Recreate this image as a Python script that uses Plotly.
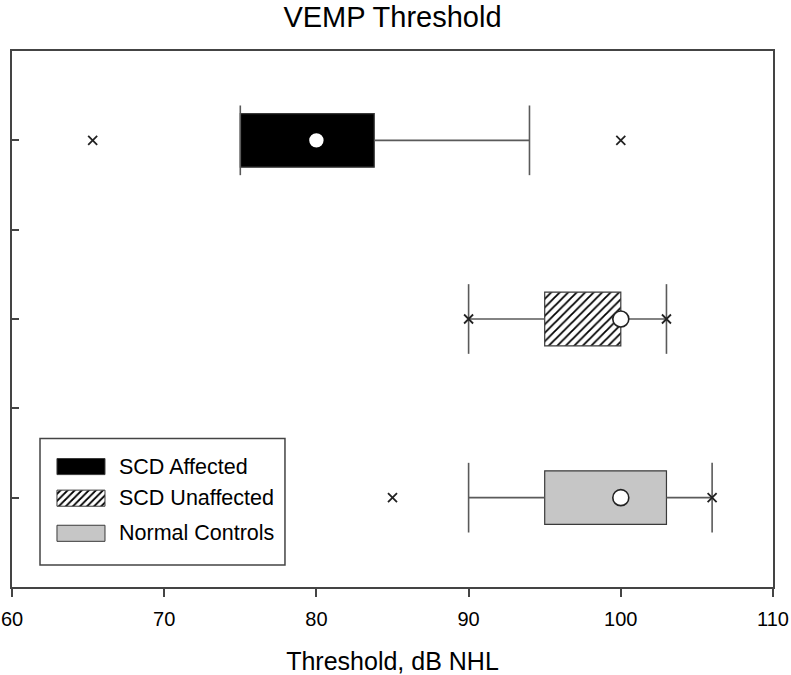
import plotly.graph_objects as go

# ---------------- data ----------------
groups = ["SCD Affected", "SCD Unaffected", "Normal Controls"]
positions = [5, 3, 1]
lower_whisker = [75, 90, 90]
q1 = [75, 95, 95]
q3 = [83.8, 100, 103]
upper_whisker = [94, 103, 106]
centers = [80, 100, 100]
outliers = [[65.3, 100], [90, 103], [85, 106]]
x_ticks = [60, 70, 80, 90, 100, 110]

# ---------------- styles ----------------
FONT = "Liberation Sans, Arial, sans-serif"
fills = ["black", "white", "#c6c6c6"]
patterns = ["", "/", ""]
edge = "#3a3a3a"
wcol = "#5a5a5a"
box_w = 0.6
cap_half = 0.39

fig = go.Figure()

for g, p, lo, a, b, hi, f, pat in zip(groups, positions, lower_whisker, q1, q3,
                                      upper_whisker, fills, patterns):
    # whiskers + caps
    fig.add_trace(go.Scatter(
        x=[lo, a, None, b, hi, None, lo, lo, None, hi, hi],
        y=[p, p, None, p, p, None, p - cap_half, p + cap_half, None, p - cap_half, p + cap_half],
        mode="lines", line=dict(color=wcol, width=1.6), showlegend=False, hoverinfo="skip"))
    # box
    marker = dict(color=f, line=dict(color=edge, width=1.2))
    if pat:
        marker["pattern"] = dict(shape=pat, fgcolor="black", bgcolor="white",
                                 size=6, solidity=0.3, fillmode="replace")
    fig.add_trace(go.Bar(
        y=[p], x=[b - a], base=[a], orientation="h", width=box_w,
        marker=marker, name=g, showlegend=False))

# outliers
for p, outs in zip(positions, outliers):
    fig.add_trace(go.Scatter(
        x=outs, y=[p] * len(outs), mode="markers",
        marker=dict(symbol="x-thin", size=9, line=dict(color="#222", width=1.8)),
        showlegend=False))

# centre circles
fig.add_trace(go.Scatter(
    x=centers, y=positions, mode="markers",
    marker=dict(symbol="circle", size=16, color="white",
                line=dict(color=["black", "#222", "#222"], width=1.6)),
    showlegend=False))

# ---------------- custom legend (in plot-area fractions) ----------------
leg_x0, leg_x1, leg_y0, leg_y1 = 0.0368, 0.3587, 0.0412, 0.2772
sw_x0, sw_x1, sw_h = 0.0591, 0.1222, 0.030
row_y = [0.2247, 0.1657, 0.1002]
text_x = 0.138

fig.add_shape(type="rect", xref="paper", yref="paper",
              x0=leg_x0, x1=leg_x1, y0=leg_y0, y1=leg_y1,
              line=dict(color="#444", width=1.5), fillcolor="white", layer="below")

for g, ry, f, pat in zip(groups, row_y, fills, patterns):
    marker = dict(color=f, line=dict(color=edge, width=1))
    if pat:
        marker["pattern"] = dict(shape=pat, fgcolor="black", bgcolor="white",
                                 size=5, solidity=0.35, fillmode="replace")
    fig.add_trace(go.Bar(
        y=[ry], x=[sw_x1 - sw_x0], base=[sw_x0], orientation="h", width=sw_h,
        marker=marker, xaxis="x2", yaxis="y2", showlegend=False, hoverinfo="skip"))
    fig.add_annotation(x=text_x, y=ry, xref="paper", yref="paper", text=g,
                       showarrow=False, xanchor="left", yanchor="middle",
                       font=dict(family=FONT, size=21.5, color="black"))

fig.update_layout(
    width=791, height=675,
    margin=dict(l=12, r=18, t=51, b=88),
    template="none",
    paper_bgcolor="white", plot_bgcolor="rgba(0,0,0,0)",
    barmode="overlay",
    showlegend=False,
    font=dict(family=FONT, color="black"),
    title=dict(text="VEMP Threshold", x=0.5, xref="paper", xanchor="center",
               y=0.9748, yref="container", yanchor="middle",
               font=dict(family=FONT, size=29, color="black")),
    xaxis=dict(range=[60, 110], tickvals=x_ticks, ticks="outside", ticklen=8,
               tickwidth=1.5, tickcolor="#444", showline=True, linecolor="#444",
               linewidth=1.5, mirror=True, showgrid=False, zeroline=False,
               automargin=False, ticklabelstandoff=5,
               tickfont=dict(family=FONT, size=20, color="black"),
               title=dict(text="Threshold, dB NHL", standoff=24,
                          font=dict(family=FONT, size=25, color="black"))),
    yaxis=dict(range=[0, 6], tickvals=[1, 2, 3, 4, 5], ticks="inside", ticklen=7,
               tickwidth=1.5, tickcolor="#444", showticklabels=False,
               showline=True, linecolor="#444", linewidth=1.5, mirror=True,
               showgrid=False, zeroline=False, automargin=False),
    xaxis2=dict(domain=[0, 1], range=[0, 1], anchor="y2", visible=False, fixedrange=True),
    yaxis2=dict(domain=[0, 1], range=[0, 1], anchor="x2", visible=False, fixedrange=True),
)

fig.write_html("out.html", config={"displayModeBar": False},
               post_script="document.body.style.margin='0';document.body.style.padding='0';")
